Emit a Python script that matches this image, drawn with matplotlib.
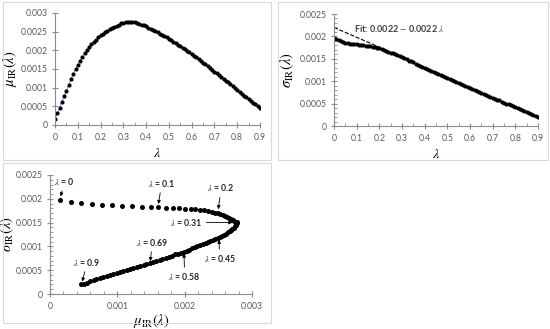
import numpy as np
import matplotlib
matplotlib.use("Agg")
import matplotlib.pyplot as plt
from matplotlib.patches import Rectangle
from matplotlib.ticker import MultipleLocator, FuncFormatter

plt.rcParams['font.family'] = ['Lato', 'DejaVu Sans']
plt.rcParams['mathtext.fontset'] = 'stix'

# lambda grid (step 0.01)
lam = np.arange(0, 91) / 100

# mean of IR vs lambda
mu_ir = [0.00015, 0.00031, 0.00046, 0.00062, 0.00077, 0.00092, 0.00107, 0.00122, 0.00137, 0.00150,
         0.00161, 0.00172, 0.00182, 0.00192, 0.00201, 0.00209, 0.00216, 0.00223, 0.00229, 0.00235,
         0.00240, 0.00245, 0.00249, 0.00253, 0.00257, 0.00260, 0.00263, 0.00266, 0.00269, 0.00272,
         0.00274, 0.00277, 0.00277, 0.00276, 0.00276, 0.00275, 0.00273, 0.00271, 0.00269, 0.00267,
         0.00264, 0.00261, 0.00258, 0.00255, 0.00252, 0.00249, 0.00245, 0.00242, 0.00238, 0.00235,
         0.00231, 0.00227, 0.00223, 0.00219, 0.00215, 0.00211, 0.00207, 0.00203, 0.00199, 0.00195,
         0.00190, 0.00186, 0.00181, 0.00177, 0.00172, 0.00167, 0.00163, 0.00158, 0.00153, 0.00148,
         0.00143, 0.00139, 0.00134, 0.00129, 0.00124, 0.00119, 0.00114, 0.00109, 0.00104, 0.00099,
         0.00094, 0.00089, 0.00084, 0.00079, 0.00074, 0.00069, 0.00065, 0.00060, 0.00055, 0.00050,
         0.00046]

# std of IR vs lambda
sigma_ir = [0.00197, 0.00194, 0.00191, 0.00189, 0.00187, 0.00186, 0.00185, 0.00184, 0.00183, 0.00182,
            0.00182, 0.00181, 0.00181, 0.00180, 0.00179, 0.00179, 0.00178, 0.00177, 0.00176, 0.00174,
            0.00173, 0.00171, 0.00170, 0.00168, 0.00166, 0.00164, 0.00162, 0.00160, 0.00158, 0.00156,
            0.00153, 0.00151, 0.00149, 0.00146, 0.00144, 0.00142, 0.00139, 0.00137, 0.00134, 0.00132,
            0.00130, 0.00127, 0.00125, 0.00122, 0.00120, 0.00118, 0.00115, 0.00113, 0.00111, 0.00109,
            0.00107, 0.00104, 0.00102, 0.00100, 0.00098, 0.00096, 0.00093, 0.00091, 0.00089, 0.00087,
            0.00085, 0.00083, 0.00080, 0.00078, 0.00076, 0.00074, 0.00072, 0.00069, 0.00067, 0.00065,
            0.00063, 0.00061, 0.00059, 0.00057, 0.00054, 0.00052, 0.00050, 0.00048, 0.00046, 0.00044,
            0.00042, 0.00040, 0.00037, 0.00035, 0.00033, 0.00031, 0.00029, 0.00027, 0.00024, 0.00022,
            0.00020]

# linear fit shown on top-right panel
fit_a, fit_b = 0.0022, -0.0022
fit_lam = [0.0, 0.2]

# annotations of bottom panel: label, arrow tip (mu, sigma), text position
ann_labels = ['0', '0.1', '0.2', '0.31', '0.45', '0.58', '0.69', '0.9']
ann_tip = [(0.00016, 0.00205), (0.00161, 0.00189), (0.00250, 0.00178), (0.00271, 0.00150),
           (0.00251, 0.00114), (0.00199, 0.00085), (0.00149, 0.00069), (0.00048, 0.00026)]
ann_text = [(0.00021, 0.00237), (0.00166, 0.00233), (0.00254, 0.00223), (0.00202, 0.00151),
            (0.00252, 0.00074), (0.00200, 0.00036), (0.00152, 0.00109), (0.00055, 0.00067)]

GRAY = '#595959'
AX_GRAY = '#8c8c8c'

fig = plt.figure(figsize=(5.5, 3.29), dpi=100)

# panel frames
for (x0, y0, x1, y1) in [(3, 2, 271, 160), (278, 2, 548, 160), (3, 163, 271, 323)]:
    fig.patches.append(Rectangle((x0 / 550, 1 - y1 / 329), (x1 - x0) / 550, (y1 - y0) / 329,
                                 transform=fig.transFigure, fill=False, ec='#d9d9d9', lw=0.8))


def style(ax, xmaj, xmin, ymaj, ymin):
    for s in ['top', 'right']:
        ax.spines[s].set_visible(False)
    for s in ['left', 'bottom']:
        ax.spines[s].set_color(AX_GRAY)
        ax.spines[s].set_linewidth(0.8)
    ax.xaxis.set_major_locator(MultipleLocator(xmaj))
    ax.yaxis.set_major_locator(MultipleLocator(ymaj))
    if xmin:
        ax.xaxis.set_minor_locator(MultipleLocator(xmin))
    if ymin:
        ax.yaxis.set_minor_locator(MultipleLocator(ymin))
    ax.tick_params(which='major', direction='inout', length=5, width=0.8, color=AX_GRAY,
                   labelsize=6.2, labelcolor=GRAY, pad=3)
    ax.tick_params(which='minor', direction='in', length=2, width=0.6, color=AX_GRAY)
    ax.set_facecolor('none')


def ytick_fmt(v, pos):
    return '0' if v == 0 else ('%.4f' % v).rstrip('0')


def xtick_fmt(v, pos):
    return '0' if v == 0 else '%g' % round(v, 4)


# top-left: mu vs lambda
ax1 = fig.add_axes([55 / 550, 1 - 125 / 329, 205 / 550, 112 / 329])
ax1.plot(lam, mu_ir, color='#4472c4', lw=0.5, zorder=1)
ax1.plot(lam, mu_ir, 'o', color='black', ms=3.0, mew=0, zorder=2)
ax1.set_xlim(0, 0.9)
ax1.set_ylim(0, 0.003)
style(ax1, 0.1, 0.05, 0.0005, None)
ax1.xaxis.set_major_formatter(FuncFormatter(xtick_fmt))
ax1.yaxis.set_major_formatter(FuncFormatter(ytick_fmt))
ax1.set_xlabel(r'$\lambda$', fontsize=10, labelpad=3)
ax1.set_ylabel(r'$\mu_{\mathrm{IR}}(\lambda)$', fontsize=10.5)
ax1.yaxis.set_label_coords(-0.176, 0.5)

# top-right: sigma vs lambda
ax2 = fig.add_axes([334 / 550, 1 - 126 / 329, 204 / 550, 112 / 329])
ax2.plot(fit_lam, [fit_a + fit_b * v for v in fit_lam], '--', color='black', lw=0.8, zorder=1)
ax2.plot(lam, sigma_ir, 'o', color='black', ms=3.0, mew=0, zorder=2)
ax2.set_xlim(0, 0.9)
ax2.set_ylim(0, 0.0025)
style(ax2, 0.1, 0.05, 0.0005, 0.0001)
ax2.xaxis.set_major_formatter(FuncFormatter(xtick_fmt))
ax2.yaxis.set_major_formatter(FuncFormatter(ytick_fmt))
ax2.text(0.09, 0.00217, r'Fit: 0.0022 $-$ 0.0022 $\lambda$', fontsize=6.5, color='#404040',
         fontweight='bold', va='center')
ax2.set_xlabel(r'$\lambda$', fontsize=10, labelpad=3)
ax2.set_ylabel(r'$\sigma_{\mathrm{IR}}(\lambda)$', fontsize=10.5)
ax2.yaxis.set_label_coords(-0.186, 0.5)

# bottom-left: sigma vs mu
ax3 = fig.add_axes([50 / 550, 1 - 294 / 329, 202 / 550, 119 / 329])
ax3.plot(mu_ir, sigma_ir, 'o', color='black', ms=3.6, mew=0)
ax3.set_xlim(0, 0.003)
ax3.set_ylim(0, 0.0025)
style(ax3, 0.001, 0.0002, 0.0005, 0.0001)
ax3.xaxis.set_major_formatter(FuncFormatter(xtick_fmt))
ax3.yaxis.set_major_formatter(FuncFormatter(ytick_fmt))
for lab, tip, txt in zip(ann_labels, ann_tip, ann_text):
    ax3.annotate(r'$\lambda$ = ' + lab, xy=tip, xytext=txt, ha='center', va='center',
                 fontsize=6.3, color='#262626', fontweight='bold',
                 arrowprops=dict(arrowstyle='-|>', color='black', lw=0.6,
                                 mutation_scale=5, shrinkA=1, shrinkB=0))
ax3.set_xlabel(r'$\mu_{\mathrm{IR}}(\lambda)$', fontsize=10.5, labelpad=1)
ax3.set_ylabel(r'$\sigma_{\mathrm{IR}}(\lambda)$', fontsize=10.5)
ax3.yaxis.set_label_coords(-0.168, 0.5)

fig.savefig('out.png', dpi=100)
